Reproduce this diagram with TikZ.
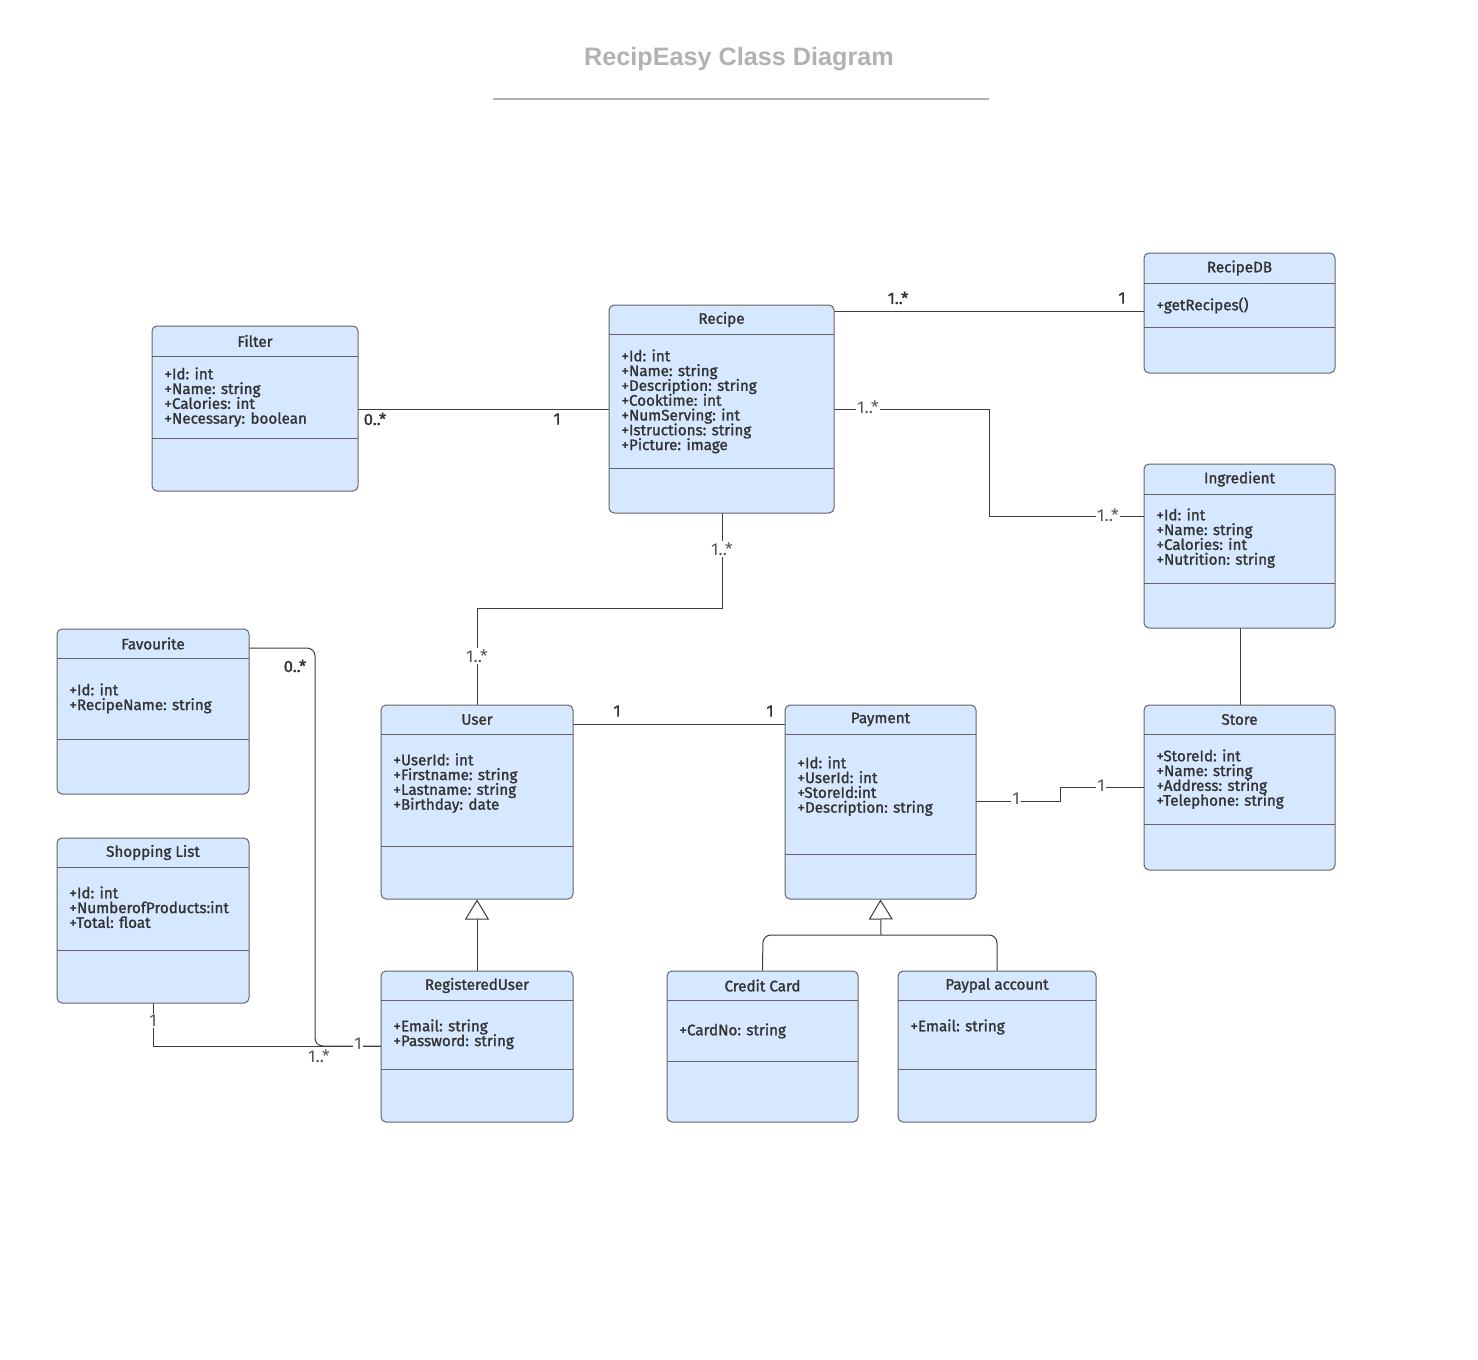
\documentclass[tikz,border=0pt]{standalone}
\usepackage{fontspec}
\setmainfont{Fira Sans}
\newfontfamily\titlefont{Liberation Sans}
\newfontfamily\medfont{Fira Sans}[FakeBold=1.4]
\usetikzlibrary{arrows.meta}
\definecolor{boxfill}{RGB}{214,232,255}
\definecolor{boxline}{RGB}{100,100,100}
\definecolor{txtcol}{RGB}{51,51,51}
\definecolor{conncol}{RGB}{60,60,60}
\definecolor{lblcol}{RGB}{85,85,85}
\definecolor{ttlcol}{RGB}{178,178,178}
\newcommand\attrfont{\medfont\fontsize{7.6}{7.4}\selectfont\lineskiplimit=-8pt\lineskip=0pt\relax}
\tikzset{
  clsbox/.style={draw=boxline, fill=boxfill, rounded corners=2.5pt, line width=0.5pt, inner sep=0pt, rectangle},
  divider/.style={draw=boxline, line width=0.5pt},
  clstitle/.style={font=\attrfont, text=txtcol, inner sep=0pt},
  clsattr/.style={font=\attrfont, text=txtcol, inner sep=0pt, align=left, anchor=north west},
  connline/.style={draw=conncol, line width=0.5pt},
  mult/.style={font=\medfont\fontsize{8.2}{8}\selectfont, text=txtcol, inner sep=0pt},
  mlbl/.style={font=\fontsize{8.6}{8}\selectfont, text=lblcol, fill=white, inner sep=0.6pt},
  gen/.style={connline, -{Triangle[open, length=10pt, width=12pt]}},
}
\newcommand\umlclass[8]{%
  \node[clsbox, minimum width={(#4-#2)*0.5pt}, minimum height={(#5-#3)*0.5pt}] (#1) at ({(#2+#4)/2},{(#3+#5)/2}) {};
  \draw[divider] (#2,#6) -- (#4,#6);
  \draw[divider] (#2,#7) -- (#4,#7);
  \node[clstitle] (#1-t) at ({(#2+#4)/2},{(#3+#6)/2}) {#8};
}
\begin{document}
\begin{tikzpicture}[x=0.5pt,y=-0.5pt]
\useasboundingbox (0,0) rectangle (1478,1360);
% title
\node[font=\titlefont\bfseries\fontsize{12.6}{14}\selectfont, text=ttlcol, inner sep=0pt] (title) at (739,59) {RecipEasy Class Diagram};
\coordinate (tl) at (493,99);
\coordinate (tr) at (989,99);
\draw[ttlcol, line width=1pt] (tl) -- (tr);

% connectors first (under boxes)
% Recipe - RecipeDB
\draw[connline] (834,311) -- (1144,311);
% Filter - Recipe
\draw[connline] (358,409) -- (609,409);
% Recipe - Ingredient
\draw[connline] (834,409) -- (989,409) -- (989,516) -- (1144,516);
% Recipe - User
\draw[connline] (722,513) -- (722,608) -- (477,608) -- (477,705);
% Ingredient - Store
\draw[connline] (1240,628) -- (1240,705);
% User - Payment
\draw[connline] (573,724) -- (785,724);
% Payment - Store
\draw[connline] (976,801) -- (1060,801) -- (1060,787) -- (1144,787);
% Favourite - RegisteredUser
\draw[connline, rounded corners=4pt] (249,648) -- (315,648) -- (315,1046) -- (381,1046);
% Shopping List - RegisteredUser
\draw[connline] (153,1003) -- (153,1046) -- (381,1046);

% classes
\umlclass{filter}{152}{326}{358}{491}{356}{438}{Filter}
\node[clsattr] (filter-a) at (164,367) {+Id: int\\+Name: string\\+Calories: int\\+Necessary: boolean};

\umlclass{recipe}{609}{305}{834}{513}{334}{468}{Recipe}
\node[clsattr] (recipe-a) at (621,349) {+Id: int\\+Name: string\\+Description: string\\+Cooktime: int\\+NumServing: int\\+Istructions: string\\+Picture: image};

\umlclass{rdb}{1144}{253}{1335}{373}{283}{327}{RecipeDB}
\node[clsattr] (rdb-a) at (1156,297) {+getRecipes()};

\umlclass{ing}{1144}{464}{1335}{628}{494}{583}{Ingredient}
\node[clsattr] (ing-a) at (1156,508) {+Id: int\\+Name: string\\+Calories: int\\+Nutrition: string};

\umlclass{fav}{57}{629}{249}{794}{658}{739}{Favourite}
\node[clsattr] (fav-a) at (69,683) {+Id: int\\+RecipeName: string};

\umlclass{user}{381}{705}{573}{899}{734}{846}{User}
\node[clsattr] (user-a) at (393,753) {+UserId: int\\+Firstname: string\\+Lastname: string\\+Birthday: date};

\umlclass{pay}{785}{705}{976}{899}{734}{854}{Payment}
\node[clsattr] (pay-a) at (797,756) {+Id: int\\+UserId: int\\+StoreId:int\\+Description: string};

\umlclass{store}{1144}{705}{1335}{870}{734}{824}{Store}
\node[clsattr] (store-a) at (1156,749) {+StoreId: int\\+Name: string\\+Address: string\\+Telephone: string};

\umlclass{shop}{57}{838}{249}{1003}{867}{950}{Shopping List}
\node[clsattr] (shop-a) at (69,886) {+Id: int\\+NumberofProducts:int\\+Total: float};

\umlclass{reg}{381}{971}{573}{1122}{1000}{1069}{RegisteredUser}
\node[clsattr] (reg-a) at (393,1019) {+Email: string\\+Password: string};

\umlclass{cc}{667}{971}{858}{1122}{1000}{1061}{Credit Card}
\node[clsattr] (cc-a) at (679,1023) {+CardNo: string};

\umlclass{pp}{898}{971}{1096}{1122}{1000}{1069}{Paypal account}
\node[clsattr] (pp-a) at (910,1019) {+Email: string};

% generalizations
\draw[gen] (reg.north) -- (user.south);
\coordinate (gj) at (881,935);
\draw[connline, rounded corners=4pt] (cc.north) -- (763,935) -- (gj);
\draw[connline, rounded corners=4pt] (pp.north) -- (997,935) -- (gj);
\draw[gen] (gj) -- (pay.south);

% multiplicities
\node[mult] (m1) at (898,298) {1..*};
\node[mult] (m2) at (1122,298) {1};
\node[mult] (m3) at (375,419) {0..*};
\node[mult] (m4) at (557,419) {1};
\node[mlbl] (m5) at (868,407) {1..*};
\node[mlbl] (m6) at (1108,515) {1..*};
\node[mlbl] (m7) at (722,549) {1..*};
\node[mlbl] (m8) at (477,656) {1..*};
\node[mult] (m9) at (617,711) {1};
\node[mult] (m10) at (770,711) {1};
\node[mlbl] (m11) at (1016,799) {1};
\node[mlbl] (m12) at (1101,786) {1};
\node[mult] (m13) at (295,666) {0..*};
\node[mlbl] (m14) at (358,1044) {1};
\node[mlbl] (m15) at (319,1056) {1..*};
\node[mlbl] (m16) at (153,1021) {1};
\end{tikzpicture}
\end{document}
